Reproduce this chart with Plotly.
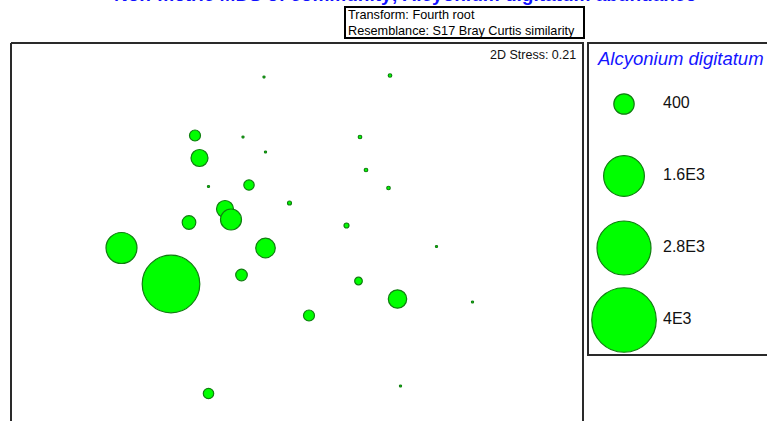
import plotly.graph_objects as go

W, H = 767, 421

# nMDS coordinates (arbitrary units) and Alcyonium digitatum abundance
mds_x = [-0.24, 0.60, -0.70, -0.38, 0.40, -0.23, -0.67, 0.44, -0.61, -0.34,
         0.59, -0.07, -0.50, -0.46, -0.74, 0.31, 0.91, -1.19, -0.23, -0.86,
         -0.39, 0.39, 0.65, 1.15, 0.06, -0.61, 0.67]
mds_y = [1.02, 1.03, 0.63, 0.62, 0.62, 0.52, 0.48, 0.40, 0.29, 0.30,
         0.28, 0.18, 0.14, 0.07, 0.05, 0.03, -0.11, -0.12, -0.12, -0.36,
         -0.30, -0.34, -0.46, -0.48, -0.57, -1.09, -1.04]
abundance = [4, 12, 116, 4, 12, 4, 278, 12, 4, 104,
             12, 15, 278, 424, 178, 24, 4, 924, 369, 3189,
             129, 56, 325, 4, 116, 104, 4]

legend_values = [400, 1600, 2800, 4000]
legend_labels = ["400", "1.6E3", "2.8E3", "4E3"]

title_text = "Non-metric MDS of community; Alcyonium digitatum abundance"
subtitle_lines = ["Transform: Fourth root", "Resemblance: S17 Bray Curtis similarity"]
stress_text = "2D Stress: 0.21"
legend_title = "Alcyonium digitatum"

SIZEREF = 1.922
FILL = "#00ff00"
EDGE = "#107e10"
FONT = "Liberation Sans, Arial, sans-serif"

# pixel layout helpers
def px(x):
    return x / W

def py(y):
    return 1 - y / H

plot_l, plot_r, plot_t = 11, 583, 43
leg_l, leg_t, leg_b = 588, 43, 355

fig = go.Figure()

fig.add_trace(go.Scatter(
    x=mds_x, y=mds_y, mode="markers", xaxis="x", yaxis="y",
    marker=dict(size=abundance, sizemode="area", sizeref=SIZEREF, sizemin=1.0,
                color=FILL, line=dict(color=EDGE, width=1.2), opacity=1),
    hoverinfo="x+y+text", text=[str(v) for v in abundance], showlegend=False,
))

leg_idx = list(range(len(legend_values)))
fig.add_trace(go.Scatter(
    x=[0] * len(legend_values), y=leg_idx, mode="markers", xaxis="x2", yaxis="y2",
    marker=dict(size=legend_values, sizemode="area", sizeref=SIZEREF,
                color=FILL, line=dict(color=EDGE, width=1.2), opacity=1),
    hoverinfo="skip", showlegend=False,
))
fig.add_trace(go.Scatter(
    x=[39] * len(legend_values), y=leg_idx, mode="text", xaxis="x2", yaxis="y2",
    text=legend_labels, textposition="middle right",
    textfont=dict(family=FONT, size=16, color="#111111"),
    hoverinfo="skip", showlegend=False,
))

# main axes: 150 px per unit, centre at pixel (300, 230)
x_rng = [(plot_l - 300) / 150, (plot_r - 300) / 150]
y_rng = [(230 - H) / 150, (230 - plot_t) / 150]

axis_off = dict(showgrid=False, zeroline=False, showticklabels=False, ticks="",
                showline=False, fixedrange=True)

fig.update_layout(
    width=W, height=H, margin=dict(l=0, r=0, t=0, b=0),
    paper_bgcolor="white", plot_bgcolor="white",
    xaxis=dict(domain=[px(plot_l), px(plot_r)], range=x_rng, **axis_off),
    yaxis=dict(domain=[0, py(plot_t)], range=y_rng, **axis_off),
    xaxis2=dict(domain=[px(leg_l), 1], range=[-(624 - leg_l), W - 624],
                anchor="y2", **axis_off),
    yaxis2=dict(domain=[0, py(leg_t)],
                range=[(H - 104) / 72, (leg_t - 104) / 72],
                anchor="x2", **axis_off),
    showlegend=False,
)

shapes = []
frame = dict(type="line", xref="paper", yref="paper", line=dict(color="#2a2a2a", width=2))
shapes.append(dict(frame, x0=px(plot_l), x1=px(plot_l), y0=0, y1=py(plot_t)))
shapes.append(dict(frame, x0=px(plot_l), x1=px(plot_r + 1), y0=py(plot_t), y1=py(plot_t)))
shapes.append(dict(frame, x0=px(plot_r), x1=px(plot_r), y0=0, y1=py(plot_t)))
# legend box
shapes.append(dict(type="rect", xref="paper", yref="paper",
                   x0=px(leg_l), x1=px(W + 5), y0=py(leg_b), y1=py(leg_t),
                   line=dict(color="#2a2a2a", width=2), fillcolor="rgba(0,0,0,0)"))
# subtitle box
shapes.append(dict(type="rect", xref="paper", yref="paper",
                   x0=px(345), x1=px(584), y0=py(38), y1=py(7),
                   line=dict(color="#000000", width=2), fillcolor="rgba(0,0,0,0)"))
fig.update_layout(shapes=shapes)

ann = []
ann.append(dict(text="<b>" + title_text + "</b>", xref="paper", yref="paper",
                x=px(405), y=py(7), xanchor="center", yanchor="bottom",
                showarrow=False, font=dict(family=FONT, size=19, color="#1010ff")))
ann.append(dict(text=subtitle_lines[0], xref="paper", yref="paper",
                x=px(346), y=py(15), xanchor="left", yanchor="middle",
                showarrow=False, font=dict(family="Liberation Sans Narrow, " + FONT, size=12.7, color="#000")))
ann.append(dict(text=subtitle_lines[1], xref="paper", yref="paper",
                x=px(346), y=py(31), xanchor="left", yanchor="middle",
                showarrow=False, font=dict(family="Liberation Sans Narrow, " + FONT, size=12.7, color="#000")))
ann.append(dict(text=stress_text, xref="paper", yref="paper",
                x=px(578), y=py(55), xanchor="right", yanchor="middle",
                showarrow=False, font=dict(family=FONT, size=12.5, color="#111")))
ann.append(dict(text="<i>" + legend_title + "</i>", xref="paper", yref="paper",
                x=px(595), y=py(58), xanchor="left", yanchor="middle",
                showarrow=False, font=dict(family=FONT, size=18.5, color="#1414ff")))
fig.update_layout(annotations=ann)

fig.write_html("out.html", config={"displayModeBar": False},
               post_script="document.body.style.margin='0px';")
